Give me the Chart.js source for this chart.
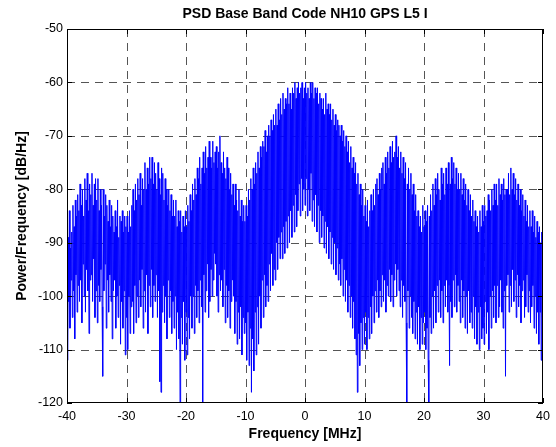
<!DOCTYPE html>
<html>
<head>
<meta charset="utf-8">
<script src="https://cdn.jsdelivr.net/npm/chart.js@4"></script>
<style>
  html, body { margin: 0; padding: 0; background: #fff; }
</style>
</head>
<body>
<canvas id="psdChart" width="556" height="447"></canvas>
<script>
const chartTitle = 'PSD Base Band Code NH10 GPS L5 I';
const xLabel = 'Frequency [MHz]';
const yLabel = 'Power/Frequency [dB/Hz]';
const xTicks = [-40, -30, -20, -10, 0, 10, 20, 30, 40];
const yTicks = [-120, -110, -100, -90, -80, -70, -60, -50];

// frequency grid: first sample and spacing (MHz)
const freqStart = -40;
const freqStep = 0.1;

// PSD in dB/Hz (one row = 1 MHz)
const psdDb = [
  -95, -112, -89, -101, -84, -106, -91, -97, -88, -104,   // -40
  -83, -99, -87, -108, -82, -96, -85, -103, -81, -98,
  -84, -101, -79, -97, -83, -105, -80, -94, -85, -100,
  -78, -103, -82, -95, -77, -99, -84, -107, -79, -97,
  -81, -96, -77, -101, -83, -93, -79, -104, -78, -99,
  -82, -105, -78, -98, -84, -101, -80, -95, -83, -102,
  -115, -80, -99, -85, -94, -81, -106, -83, -97, -86,
  -103, -82, -96, -87, -101, -83, -108, -85, -99, -88,
  -97, -84, -106, -87, -100, -82, -104, -89, -98, -85,
  -109, -86, -101, -84, -106, -88, -99, -85, -111, -87,
  -104, -85, -110, -88, -100, -84, -107, -87, -102, -83,  // -30
  -101, -80, -107, -84, -98, -79, -105, -82, -100, -78,
  -104, -81, -97, -77, -102, -83, -95, -78, -106, -80,
  -99, -75, -103, -80, -96, -76, -107, -79, -98, -74,
  -102, -78, -95, -74, -104, -79, -98, -75, -101, -77,
  -96, -80, -104, -75, -99, -78, -116, -81, -118, -76,
  -103, -77, -98, -82, -105, -78, -100, -80, -108, -83,
  -97, -80, -104, -84, -99, -81, -107, -85, -101, -82,
  -106, -85, -100, -82, -110, -87, -103, -84, -108, -86,
  -120, -84, -104, -88, -109, -85, -101, -87, -112, -84,
  -103, -87, -111, -83, -104, -86, -108, -81, -100, -84,  // -20
  -106, -79, -100, -82, -107, -78, -98, -81, -104, -76,
  -99, -78, -105, -74, -97, -79, -102, -76, -120, -73,
  -96, -77, -103, -72, -99, -76, -94, -74, -104, -71,
  -101, -74, -95, -76, -100, -71, -97, -75, -92, -73,
  -94, -72, -100, -76, -103, -73, -96, -70, -99, -75,
  -97, -77, -102, -73, -95, -76, -105, -78, -98, -74,
  -104, -76, -99, -80, -106, -77, -101, -81, -97, -79,
  -100, -83, -107, -79, -101, -82, -109, -84, -103, -80,
  -108, -85, -102, -82, -111, -86, -104, -83, -107, -86,
  -105, -83, -112, -85, -103, -80, -113, -82, -106, -78,  // -10
  -118, -80, -108, -76, -114, -79, -103, -75, -111, -77,
  -102, -73, -109, -76, -100, -72, -106, -74, -97, -71,
  -104, -72, -96, -69, -102, -73, -98, -70, -101, -68,
  -94, -70, -99, -67, -92, -69, -98, -66, -95, -68,
  -97, -65, -90, -68, -95, -64, -89, -67, -93, -63,
  -88, -66, -93, -62, -87, -65, -92, -63, -86, -64,
  -91, -61, -85, -64, -90, -62, -84, -65, -89, -61,
  -83, -62, -88, -60, -81, -63, -87, -61, -84, -60,
  -79, -62, -85, -61, -78, -60, -84, -63, -80, -61,
  -83, -60, -78, -62, -85, -61, -80, -63, -84, -60,      // 0
  -77, -62, -86, -60, -82, -63, -87, -61, -81, -62,
  -88, -61, -83, -64, -90, -62, -84, -63, -89, -65,
  -85, -63, -91, -66, -86, -62, -92, -65, -87, -64,
  -93, -66, -88, -64, -94, -67, -89, -65, -95, -68,
  -90, -66, -96, -69, -91, -67, -97, -68, -94, -70,
  -98, -68, -93, -71, -100, -69, -95, -72, -101, -70,
  -97, -73, -103, -71, -98, -75, -104, -72, -100, -76,
  -106, -74, -101, -77, -108, -75, -111, -79, -118, -77,
  -107, -81, -113, -79, -105, -83, -110, -80, -104, -85,
  -109, -83, -103, -86, -110, -82, -104, -87, -108, -84,  // 10
  -102, -81, -107, -84, -100, -80, -105, -83, -99, -79,
  -103, -78, -97, -81, -104, -77, -99, -80, -102, -76,
  -96, -75, -101, -79, -97, -74, -103, -77, -98, -73,
  -100, -76, -95, -72, -101, -75, -96, -71, -102, -74,
  -97, -73, -94, -70, -100, -74, -95, -72, -99, -76,
  -102, -73, -97, -77, -104, -74, -98, -78, -101, -75,
  -105, -120, -79, -99, -76, -106, -80, -100, -77, -104,
  -81, -107, -79, -101, -84, -108, -81, -103, -85, -109,
  -84, -102, -87, -110, -85, -104, -88, -109, -83, -105,
  -87, -103, -84, -110, -86, -106, -83, -112, -120, -85,  // 20
  -104, -81, -107, -84, -100, -79, -106, -83, -99, -78,
  -105, -81, -98, -77, -103, -80, -97, -82, -104, -76,
  -99, -79, -105, -77, -98, -81, -102, -76, -97, -79,
  -103, -75, -98, -113, -79, -101, -74, -104, -78, -97,
  -75, -102, -79, -96, -76, -103, -80, -98, -77, -101,
  -80, -105, -77, -97, -81, -104, -78, -99, -82, -106,
  -79, -100, -83, -107, -80, -99, -84, -105, -81, -103,
  -85, -106, -82, -100, -86, -108, -84, -102, -87, -109,
  -85, -103, -88, -110, -84, -102, -87, -108, -83, -106,
  -86, -109, -83, -101, -85, -107, -84, -103, -81, -110,  // 30
  -82, -100, -84, -106, -80, -99, -83, -104, -79, -98,
  -82, -105, -79, -98, -83, -104, -78, -102, -81, -97,
  -79, -103, -82, -106, -78, -99, -81, -115, -80, -98,
  -80, -96, -77, -103, -81, -98, -76, -102, -80, -95,
  -77, -101, -81, -97, -78, -104, -82, -96, -79, -102,
  -83, -98, -80, -105, -84, -99, -81, -97, -85, -104,
  -82, -102, -86, -96, -83, -103, -87, -99, -84, -105,
  -87, -102, -84, -98, -88, -106, -85, -100, -89, -107,
  -86, -103, -88, -109, -87, -103, -90, -112, -88, -104,
  -97                                                    // 40
];

const points = psdDb.map((v, i) => ({ x: freqStart + i * freqStep, y: v }));

const tickFont = { family: 'Liberation Sans, Arial, sans-serif', size: 12.5 };

// matlab-like axes: dashed grid under the trace, box + inward ticks on top
const matlabAxes = {
  id: 'matlabAxes',
  beforeDatasetsDraw(chart) {
    const { ctx, chartArea: a, scales: { x, y } } = chart;
    ctx.save();
    ctx.strokeStyle = '#555';
    ctx.lineWidth = 1;
    ctx.setLineDash([8, 6]);
    xTicks.slice(1, -1).forEach(v => {
      const px = Math.round(x.getPixelForValue(v)) + 0.5;
      ctx.beginPath();
      ctx.moveTo(px, a.top);
      ctx.lineTo(px, a.bottom);
      ctx.stroke();
    });
    yTicks.slice(1, -1).forEach(v => {
      const py = Math.round(y.getPixelForValue(v)) + 0.5;
      ctx.beginPath();
      ctx.moveTo(a.left, py);
      ctx.lineTo(a.right, py);
      ctx.stroke();
    });
    ctx.restore();
  },
  afterDraw(chart) {
    const { ctx, chartArea: a, scales: { x, y } } = chart;
    ctx.save();
    ctx.strokeStyle = '#000';
    ctx.lineWidth = 1;
    ctx.strokeRect(Math.round(a.left) + 0.5, Math.round(a.top) + 0.5,
      Math.round(a.right - a.left) - 1, Math.round(a.bottom - a.top) - 1);
    ctx.beginPath();
    xTicks.forEach(v => {
      const px = Math.round(x.getPixelForValue(v)) + 0.5;
      ctx.moveTo(px, a.bottom); ctx.lineTo(px, a.bottom - 5);
      ctx.moveTo(px, a.top); ctx.lineTo(px, a.top + 5);
    });
    yTicks.forEach(v => {
      const py = Math.round(y.getPixelForValue(v)) + 0.5;
      ctx.moveTo(a.left, py); ctx.lineTo(a.left + 5, py);
      ctx.moveTo(a.right, py); ctx.lineTo(a.right - 5, py);
    });
    ctx.stroke();

    ctx.fillStyle = '#000';
    ctx.font = 'bold 14px Liberation Sans, Arial, sans-serif';
    ctx.textAlign = 'center';
    ctx.textBaseline = 'middle';
    const midX = (a.left + a.right) / 2;
    ctx.fillText(chartTitle, midX, 14);
    ctx.fillText(xLabel, midX, 434);
    ctx.translate(22, (a.top + a.bottom) / 2);
    ctx.rotate(-Math.PI / 2);
    ctx.fillText(yLabel, 0, 0);
    ctx.restore();
  }
};

new Chart(document.getElementById('psdChart'), {
  type: 'line',
  data: {
    datasets: [{
      data: points,
      borderColor: '#0000ff',
      borderWidth: 1,
      pointRadius: 0,
      tension: 0,
      fill: false
    }]
  },
  options: {
    responsive: false,
    animation: false,
    layout: { padding: { left: 0, top: 29, right: 13, bottom: 0 } },
    plugins: { legend: { display: false }, tooltip: { enabled: false } },
    scales: {
      x: {
        type: 'linear',
        min: -40,
        max: 40,
        afterBuildTicks: s => { s.ticks = xTicks.map(v => ({ value: v })); },
        afterFit: s => { s.height = 44; },
        ticks: { font: tickFont, color: '#000', padding: 6, maxRotation: 0 },
        grid: { display: false, drawTicks: false },
        border: { display: false }
      },
      y: {
        type: 'linear',
        min: -120,
        max: -50,
        afterBuildTicks: s => { s.ticks = yTicks.map(v => ({ value: v })); },
        afterFit: s => { s.width = 67; },
        ticks: { font: tickFont, color: '#000', padding: 4 },
        grid: { display: false, drawTicks: false },
        border: { display: false }
      }
    }
  },
  plugins: [matlabAxes]
});
</script>
</body>
</html>
